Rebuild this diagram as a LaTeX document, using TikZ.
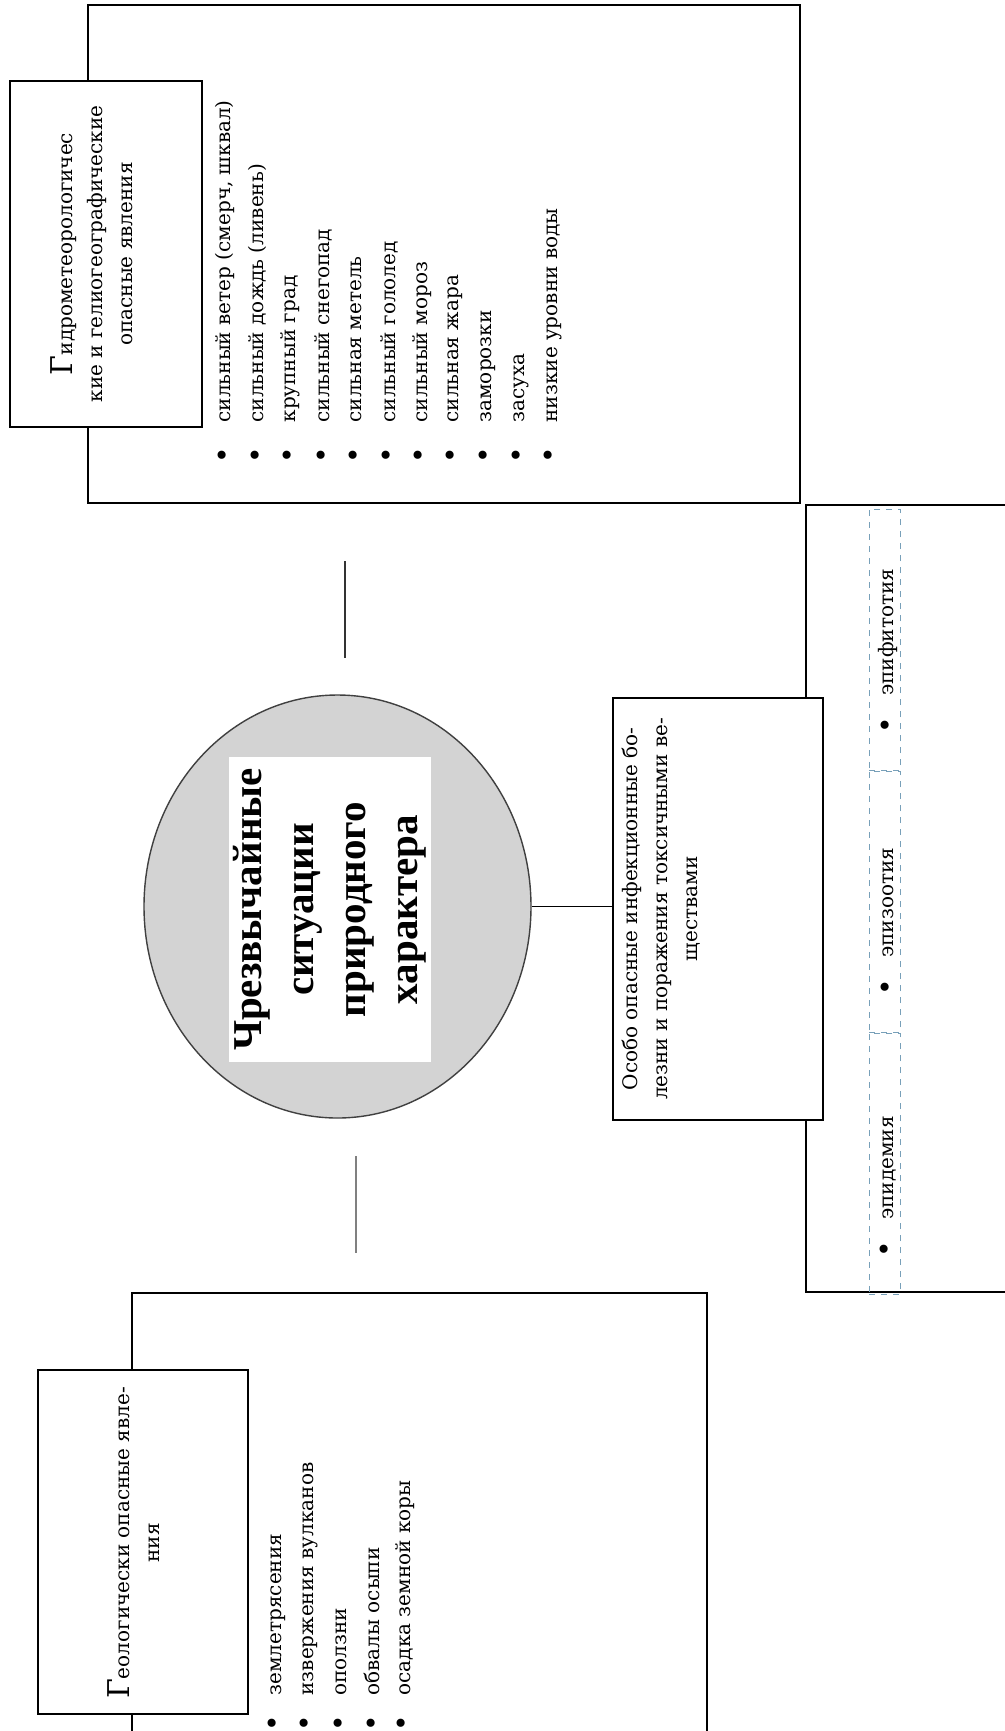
\documentclass[tikz,border=0pt]{standalone}
\usepackage{fontspec}
\setmainfont{Liberation Serif}
\newfontfamily\courfont{DejaVu Serif}
\usepackage{tikz}
\usetikzlibrary{shapes.geometric, positioning}

\definecolor{cellblue}{RGB}{120,160,185}
\definecolor{ovalgray}{RGB}{211,211,211}
\newcommand{\bigG}[1]{{\fontsize{15}{15}\selectfont #1}}
\newcommand{\dotmark}{\raisebox{-0.8pt}{\fontsize{14}{14}\selectfont•}}

\begin{document}
\begin{tikzpicture}[x=0.5pt, y=-0.5pt, every node/.style={font=\fontsize{10}{15}\selectfont\courfont}]
    	\tikzstyle{frame}=[draw,line width=0.9pt,inner sep=0pt]
    	\tikzstyle{titlebox}=[draw,fill=white,line width=0.9pt,inner sep=0pt]
    	\tikzstyle{titletext}=[rotate=90,align=center,inner sep=0pt]
    	\tikzstyle{cell}=[draw=cellblue,dashed,line width=0.5pt,inner sep=0pt]
    	\tikzset{listitem/.style={rotate=90,anchor=west,inner sep=0pt,execute at begin node={\makebox[#1][l]{\dotmark}}}}
    \fill[white] (0,0) rectangle (1005,1731);
    \useasboundingbox (0,0) rectangle (1005,1731);
    \clip (0,0) rectangle (1005,1731);
    % outer frames
    \node[frame,minimum width=356pt,minimum height=249pt] (hydro) at (444,254) {};
    \node[frame,minimum width=287.5pt,minimum height=243.5pt] (geo) at (419.5,1536.5) {};
    \node[frame,minimum width=117pt,minimum height=393.5pt] (bio) at (923,898.5) {};
    % title boxes
    \node[titlebox,minimum width=96pt,minimum height=173pt] (hydt) at (106,254) {};
    \node[titlebox,minimum width=105pt,minimum height=172pt] (geot) at (143,1542) {};
    \node[titlebox,minimum width=105pt,minimum height=211pt] (biot) at (718,909) {};
    \node[titletext] (hydtx) at (92,254) {\bigG{Г}идрометеорологичес\\кие и гелиогеографические\\опасные явления};
    \node[titletext] (geotx) at (134,1543) {\bigG{Г}еологически опасные явле-\\ния};
    \node[titletext] (biotx) at (661,909) {Особо опасные инфекционные бо-\\лезни и поражения токсичными ве-\\ществами};
    % centre
    \node[ellipse,draw=darkgray,fill=ovalgray,line width=0.7pt,minimum width=193.5pt,minimum height=211.5pt,inner sep=0pt] (chs) at (337.5,906.5) {};
    \node[rotate=90,fill=white,inner sep=0pt,minimum width=152.5pt,minimum height=101pt,align=center,
          font=\rmfamily\bfseries\fontsize{20.5}{26}\selectfont] (chstx) at (330,909.5) {Чрезвычайные\\ситуации\\природного\\характера};
    % links
    \coordinate (up1) at (345,561);
    \coordinate (up2) at (345,658);
    \coordinate (dn1) at (356,1156);
    \coordinate (dn2) at (356,1253);
    \draw[line width=0.9pt,black!80] (up1) -- (up2);
    \draw[line width=1.2pt,gray] (dn1) -- (dn2);
    \draw[line width=0.9pt] (chs.east) -- (chs.east -| biot.west);
    % lists
    \foreach \t [count=\i] in {{сильный ветер (смерч, шквал)},сильный дождь (ливень),крупный град,сильный снегопад,сильная метель,сильный гололед,сильный мороз,сильная жара,заморозки,засуха,низкие уровни воды}
      \node[listitem=20.6pt] (hi\i) at ({225+32.8*(\i-1)},464) {\t};
    \foreach \t [count=\i] in {землетрясения,извержения вулканов,оползни,обвалы осыпи,осадка земной коры}
      \node[listitem=18.1pt] (gi\i) at ({277+32*(\i-1)},1732) {\t};
    \foreach \w/\yb [count=\i] in {эпифитотия/770,эпизоотия/1032,эпидемия/1294}{
      \node[cell,minimum width=15.5pt,minimum height=130.5pt] (cell\i) at (884.5,{\yb-130.5}) {};
      \node[listitem=19pt] (bi\i) at (888,{\yb-36}) {\w};
    }
  \end{tikzpicture}
\end{document}
